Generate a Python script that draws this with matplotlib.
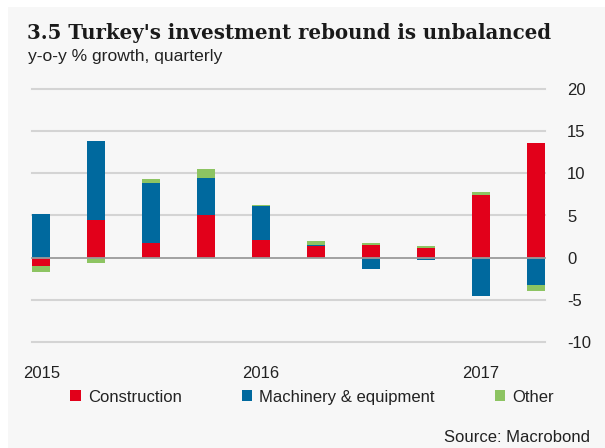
import matplotlib
matplotlib.use("Agg")
import matplotlib.pyplot as plt
from matplotlib.patches import Patch, Rectangle
import numpy as np

# data (y-o-y % contribution, 2015Q1 .. 2017Q2)
quarters = ["2015Q1", "2015Q2", "2015Q3", "2015Q4", "2016Q1",
            "2016Q2", "2016Q3", "2016Q4", "2017Q1", "2017Q2"]
construction = [-1.0, 4.45, 1.7, 5.05, 2.15, 1.4, 1.5, 1.1, 7.45, 13.6]
machinery = [5.2, 9.35, 7.2, 4.45, 3.95, 0.15, -1.35, -0.3, -4.6, -3.3]
other = [-0.65, -0.6, 0.4, 1.05, 0.2, 0.45, 0.2, 0.3, 0.35, -0.6]
year_ticks = [0, 4, 8]
year_labels = ["2015", "2016", "2017"]
y_ticks = [-10, -5, 0, 5, 10, 15, 20]

RED = "#E2001A"
BLUE = "#00699E"
GREEN = "#8DC462"
BG = "#F7F7F7"

plt.rcParams["font.family"] = ["Liberation Sans", "DejaVu Sans"]

fig = plt.figure(figsize=(6.05, 4.48), dpi=100, facecolor="white")
# light grey panel behind everything (starts a few px in from the top/left)
fig.patches.append(Rectangle((8 / 605, 0), 1, 1 - 7 / 448, transform=fig.transFigure,
                             facecolor=BG, edgecolor="none", zorder=-10))

ax = fig.add_axes([32 / 605, 1 - 342 / 448, 513 / 605, 253 / 448])
ax.set_facecolor("none")

x = np.arange(len(quarters))
w = 0.33
series = [(construction, RED), (machinery, BLUE), (other, GREEN)]
pos_base = np.zeros(len(x))
neg_base = np.zeros(len(x))
for vals, col in series:
    vals = np.array(vals)
    base = np.where(vals >= 0, pos_base, neg_base)
    ax.bar(x, vals, w, bottom=base, color=col, zorder=3, linewidth=0)
    pos_base = pos_base + np.clip(vals, 0, None)
    neg_base = neg_base + np.clip(vals, None, 0)

for t in y_ticks:
    if t == 0:
        ax.axhline(t, color="#9A9A9A", lw=1.3, zorder=4, clip_on=False)
    else:
        ax.axhline(t, color="#D4D4D4", lw=1.5, zorder=1, clip_on=False)

ax.set_xlim(-w / 2 - 0.005, len(x) - 1 + w / 2 + 0.005)
ax.set_ylim(-10, 20)
for s in ax.spines.values():
    s.set_visible(False)

ax.yaxis.tick_right()
ax.set_yticks(y_ticks)
ax.set_yticklabels([str(t) for t in y_ticks])
ax.tick_params(axis="y", length=0, pad=16, labelsize=12, labelcolor="#222222")
ax.set_xticks(year_ticks)
ax.set_xticklabels(year_labels)
ax.tick_params(axis="x", length=0, pad=17, labelsize=12, labelcolor="#222222")

fig.text(27 / 605, 1 - 33 / 448, "3.5 Turkey's investment rebound is unbalanced",
         family=["DejaVu Serif"], fontsize=14.2, fontweight="bold", color="#1A1A1A",
         va="center", ha="left")
fig.text(28 / 605, 1 - 57 / 448, "y-o-y % growth, quarterly",
         fontsize=12.6, color="#222222", va="center", ha="left")

handles = [Patch(facecolor=RED, label="Construction"),
           Patch(facecolor=BLUE, label="Machinery & equipment"),
           Patch(facecolor=GREEN, label="Other")]
fig.legend(handles=handles, loc="center", bbox_to_anchor=(312 / 605, 1 - 397 / 448),
           ncol=3, frameon=False, fontsize=12, handlelength=0.65, handleheight=0.65,
           handletextpad=0.4, columnspacing=3.6, labelcolor="#222222")

fig.text(590 / 605, 1 - 437 / 448, "Source: Macrobond", fontsize=12,
         color="#222222", ha="right", va="center")

fig.savefig("out.png", dpi=100, facecolor=fig.get_facecolor())
